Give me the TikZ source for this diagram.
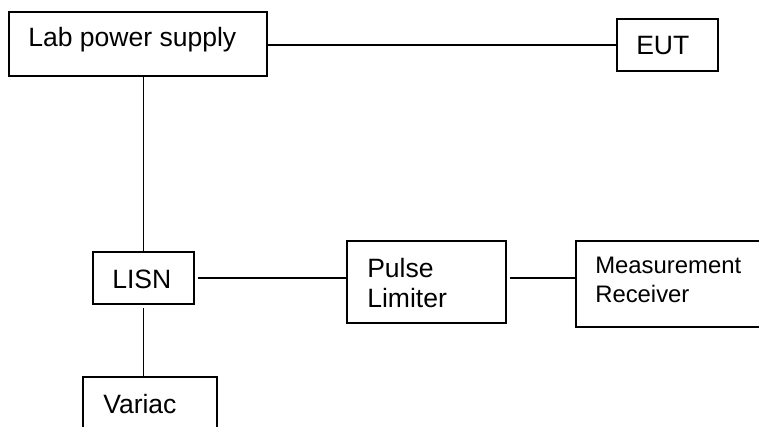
\documentclass[tikz,border=0pt]{standalone}
\usepackage{fontspec}
\setmainfont{Liberation Sans}
\usetikzlibrary{fit}
\tikzset{
  box/.style={draw,rectangle,inner sep=0pt,line width=1.4pt},
  lbl/.style={inner sep=0pt,anchor=base west,align=left,
    font=\fontsize{19.9}{22.5}\selectfont},
  small lbl/.style={lbl,font=\fontsize{17.9}{21.75}\selectfont},
  wire/.style={line width=1.4pt},
}
\begin{document}
\begin{tikzpicture}[x=0.75pt,y=-0.75pt]
  \useasboundingbox (0,0) rectangle (759,427);
  \clip (0,0) rectangle (759,427);
  % boxes
  \node[box,fit={(9,12) (267,76)}]    (lps)  {};
  \node[box,fit={(617,19) (718,71)}]  (eut)  {};
  \node[box,fit={(93,252) (194,304)}] (lisn) {};
  \node[box,fit={(347,241) (506,323)}] (lim) {};
  \node[box,fit={(576,241) (780,327)}] (rcv) {};
  \node[box,fit={(83,377) (217,450)}] (var)  {};
  % texts (base = last line)
  \node[lbl]       (lpsT)  at (28,47)   {Lab power supply};
  \node[lbl]       (eutT)  at (636,55)  {EUT};
  \node[lbl]       (lisnT) at (112,288) {LISN};
  \node[lbl]       (limT)  at (367,307) {Pulse\\Limiter};
  \node[small lbl] (rcvT)  at (595,302) {Measurement\\Receiver};
  \node[lbl]       (varT)  at (103,413) {Variac};
  % wiring
  \draw[wire] (eut.west -| lps.east) -- (eut.west);
  \draw[wire] (lisn.north |- lps.south) -- (lisn.north);
  \draw[wire,shorten <=2.25pt] (lisn.east) -- (lisn.east -| lim.west);
  \draw[wire,shorten <=2.25pt] (lisn.east -| lim.east) -- (lisn.east -| rcv.west);
  \draw[wire,shorten <=2.25pt] (lisn.south) -- (lisn.south |- var.north);
\end{tikzpicture}
\end{document}
